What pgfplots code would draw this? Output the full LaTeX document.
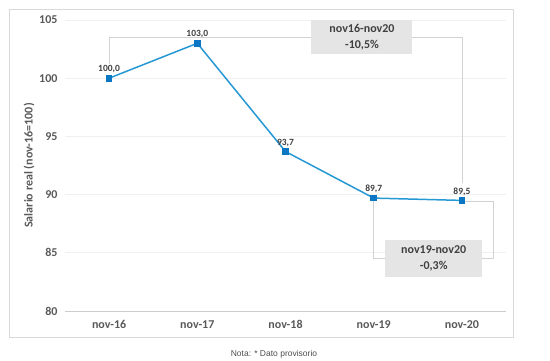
\documentclass[border=0pt]{standalone}
\usepackage{pgfplots}
\pgfplotsset{compat=1.18}
\usepackage{fontspec}
\setmainfont{Carlito}
\newfontfamily\arialfont{Liberation Sans}
\definecolor{linec}{RGB}{38,152,212}
\definecolor{markc}{RGB}{10,118,196}
\definecolor{tickc}{RGB}{89,89,89}
\definecolor{labc}{RGB}{64,64,64}
\definecolor{boxc}{RGB}{229,229,229}
\definecolor{brc}{RGB}{210,210,210}
\begin{document}
\begin{tikzpicture}[x=1pt,y=1pt]
\path[use as bounding box] (0,0) rectangle (550,361);
\draw[color=black!15, line width=0.8pt] (9,24) rectangle (513,352);
\begin{axis}[
  at={(65pt,50pt)}, anchor=south west, scale only axis,
  width=441pt, height=291pt,
  xmin=-0.5, xmax=4.5, ymin=80, ymax=105,
  ytick={80,85,90,95,100,105},
  xtick={0,1,2,3,4},
  xticklabels={nov-16,nov-17,nov-18,nov-19,nov-20},
  axis line style={draw=none},
  major tick length=0pt,
  ymajorgrids, grid style={color=black!6, line width=0.6pt},
  /pgf/number format/assume math mode=true,
  ticklabel style={font=\bfseries\fontsize{12}{14}\selectfont, color=tickc},
  yticklabel style={xshift=-4pt},
  xticklabel style={yshift=-6pt},
  ylabel={Salario real (nov-16=100)},
  ylabel style={font=\bfseries\fontsize{12}{14}\selectfont, color=tickc, yshift=-2pt},
  clip=false,
]
\draw[color=black!20, line width=0.8pt] (rel axis cs:0,0) -- (rel axis cs:1,0);
% brackets
\draw[color=brc, line width=0.7pt] (axis cs:0,101.2) -- (axis cs:0,103.54) -- (axis cs:4,103.54) -- (axis cs:4,91.0);
\draw[color=brc, line width=0.7pt] (axis cs:3,89.7) -- (axis cs:3,84.55) -- (axis cs:4.36,84.55) -- (axis cs:4.36,89.45) -- (axis cs:4,89.45);
\node[fill=boxc, minimum width=101pt, minimum height=34pt, align=center, inner sep=0pt, text=labc,
  font=\bfseries\fontsize{12}{15.5}\selectfont] at (axis cs:2.867,103.54) {nov16-nov20\\-10,5\%};
\node[fill=boxc, minimum width=97pt, minimum height=37pt, align=center, inner sep=0pt, text=labc,
  font=\bfseries\fontsize{12}{15.5}\selectfont] at (axis cs:3.68,84.51) {nov19-nov20\\-0,3\%};
\addplot[color=linec, line width=1.5pt, mark=square*, mark size=2.6pt,
  mark options={fill=markc, draw=markc},
  nodes near coords, point meta=explicit symbolic,
  every node near coord/.append style={font=\bfseries\fontsize{9.5}{11}\selectfont, color=labc, yshift=1pt}]
  table[meta=lab] {
x y lab
0 100.0 100,0
1 103.0 103,0
2 93.7 93,7
3 89.7 89,7
4 89.5 89,5
};
\end{axis}
\node[font=\arialfont\fontsize{8.5}{10}\selectfont, color=black!70] at (274,7) {Nota: * Dato provisorio};
\end{tikzpicture}
\end{document}
